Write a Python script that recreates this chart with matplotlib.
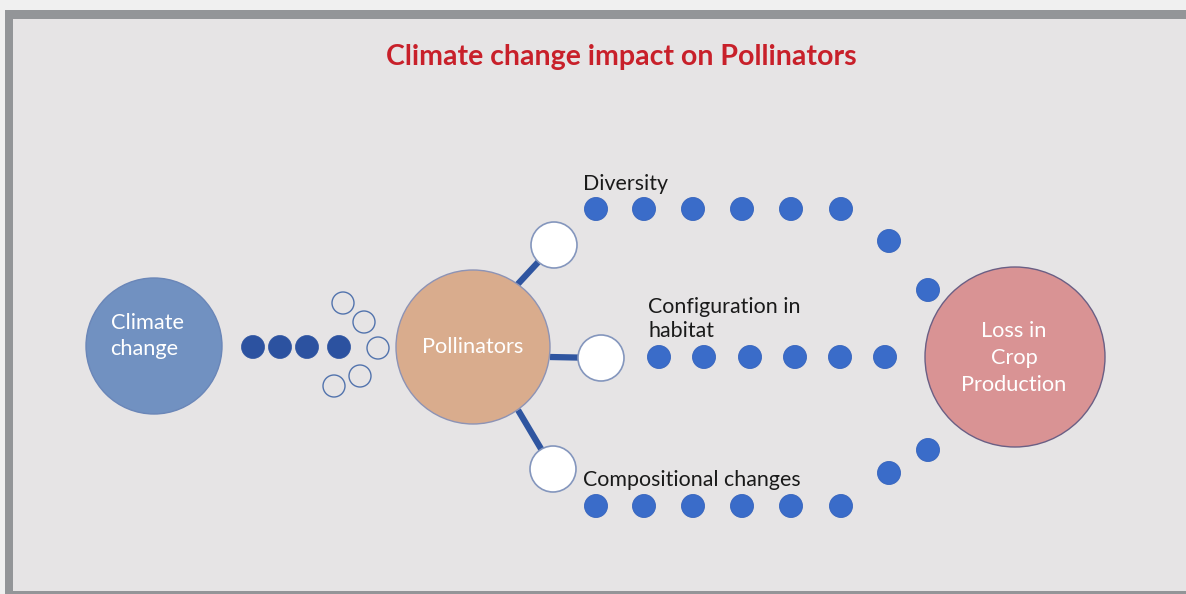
import matplotlib
matplotlib.use("Agg")
import matplotlib.pyplot as plt
from matplotlib.patches import Circle, Rectangle

# ---- data (diagram nodes, pixel space) ----
title = "Climate change impact on Pollinators"
main_labels = ["Climate\nchange", "Pollinators", "Loss in\nCrop\nProduction"]
main_x = [154, 473, 1015]
main_y = [346, 347, 357]
main_r = [68, 77, 90]
main_text_x = [147, 473, 1014]
main_text_y = [336, 347, 358]
main_align = ["left", "center", "center"]
main_spacing = [1.38, 1.3, 1.45]
main_colors = ["#7191c1", "#d9ac8d", "#d99394"]
main_edges = ["#6a86b8", "#8d93b5", "#6b5f84"]

arrow_dot_x = [253, 280, 307, 339]
arrow_dot_y = [347, 347, 347, 347]
open_dot_x = [343, 364, 378, 360, 334]
open_dot_y = [303, 322, 348, 376, 386]

branch_x = [554, 601, 553]
branch_y = [245, 358, 469]
branch_start_x = [517, 550, 518]
branch_start_y = [285, 357, 410]

branch_labels = ["Diversity", "Configuration in\nhabitat", "Compositional changes"]
label_x = [583, 648, 583]
label_y = [184, 319, 480]

top_dots_x = [596, 644, 693, 742, 791, 841, 889, 928]
top_dots_y = [209, 209, 209, 209, 209, 209, 241, 290]
mid_dots_x = [659, 704, 750, 795, 840, 885]
mid_dots_y = [357, 357, 357, 357, 357, 357]
bot_dots_x = [596, 644, 693, 742, 791, 841, 889, 928]
bot_dots_y = [506, 506, 506, 506, 506, 506, 473, 450]

W, H = 1186, 594
fig = plt.figure(figsize=(W / 100, H / 100), dpi=100)
fig.patch.set_facecolor("#f0f0f0")
ax = fig.add_axes([0, 0, 1, 1])
ax.set_xlim(0, W)
ax.set_ylim(H, 0)
ax.axis("off")

FONT = ["Lato", "DejaVu Sans"]

# frame
ax.add_patch(Rectangle((5, 10), W, H, facecolor="#939598", edgecolor="none", zorder=0))
ax.add_patch(Rectangle((13, 19), W, 572, facecolor="#e6e4e5", edgecolor="none", zorder=0))

ax.text(621, 57, title, color="#c8202a", fontsize=20.5, fontweight="bold",
        ha="center", va="center", family=FONT)

# connectors
for sx, sy, ex, ey in zip(branch_start_x, branch_start_y, branch_x, branch_y):
    ax.plot([sx, ex], [sy, ey], color="#2f55a0", lw=4.5, solid_capstyle="butt", zorder=1)

# main circles
for lab, x, y, r, c, e, tx, ty, al, ls in zip(main_labels, main_x, main_y, main_r, main_colors,
                                              main_edges, main_text_x, main_text_y, main_align,
                                              main_spacing):
    ax.add_patch(Circle((x, y), r, facecolor=c, edgecolor=e, lw=1.0, zorder=2))
    ax.text(tx, ty, lab, color="white", fontsize=15.7, ha="center", va="center",
            multialignment=al, family=FONT, linespacing=ls, zorder=3)

# arrow dots
for x, y in zip(arrow_dot_x, arrow_dot_y):
    ax.add_patch(Circle((x, y), 11.5, facecolor="#2c52a0", edgecolor="#2c52a0", lw=0.5, zorder=2))
for x, y in zip(open_dot_x, open_dot_y):
    ax.add_patch(Circle((x, y), 11, facecolor="none", edgecolor="#5273ad", lw=1.0, zorder=2))

# branch white circles
for x, y in zip(branch_x, branch_y):
    ax.add_patch(Circle((x, y), 23, facecolor="white", edgecolor="#8496bd", lw=1.2, zorder=2))

# blue dots
for xs, ys in [(top_dots_x, top_dots_y), (mid_dots_x, mid_dots_y), (bot_dots_x, bot_dots_y)]:
    for x, y in zip(xs, ys):
        ax.add_patch(Circle((x, y), 11.5, facecolor="#3a6cc9", edgecolor="#3563bd", lw=0.6, zorder=2))

# labels
for lab, x, y in zip(branch_labels, label_x, label_y):
    ax.text(x, y, lab, color="#1a1a1a", fontsize=15.4, ha="left", va="center",
            family=FONT, linespacing=1.2, zorder=3)

fig.savefig("out.png", dpi=100, facecolor=fig.get_facecolor())
